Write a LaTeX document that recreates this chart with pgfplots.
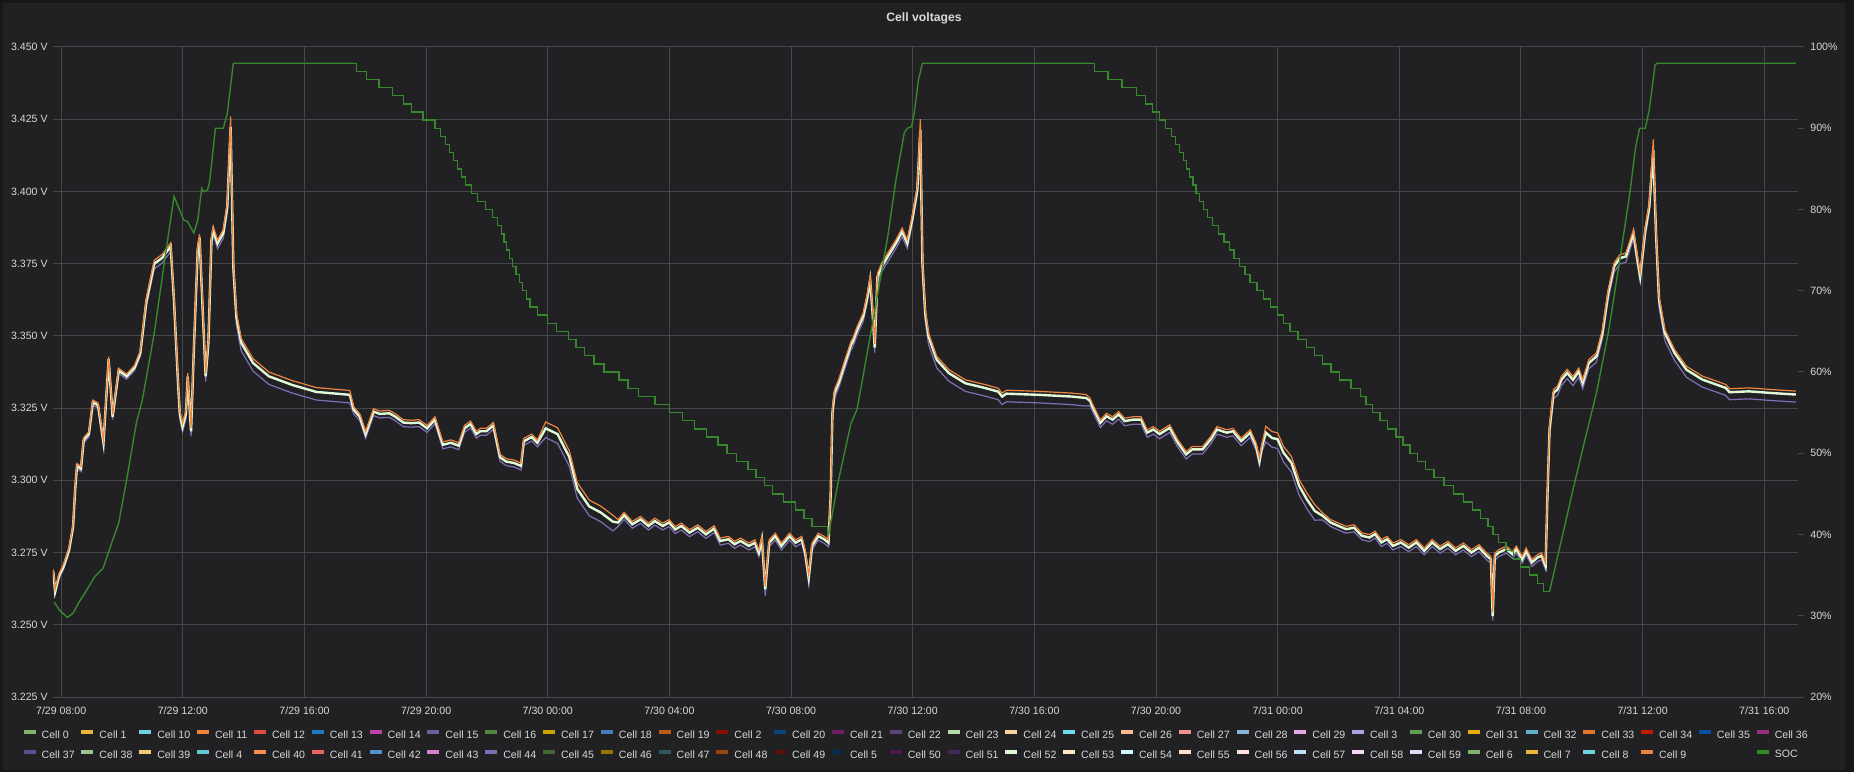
\documentclass[border=0pt]{standalone}
\usepackage{fontspec}
\setmainfont{Liberation Sans}
\usepackage{pgfplots}
\usepackage{pgfplotstable}
\pgfplotsset{compat=1.18}

\definecolor{pagebg}{HTML}{161719}
\definecolor{panelbg}{HTML}{212124}
\definecolor{txt}{HTML}{D8D9DA}
\definecolor{gridc}{HTML}{45474B}
\definecolor{socc}{HTML}{37872D}
% grafana classic palette
\definecolor{g0}{HTML}{7EB26D}\definecolor{g1}{HTML}{EAB839}\definecolor{g2}{HTML}{6ED0E0}\definecolor{g3}{HTML}{EF843C}
\definecolor{g4}{HTML}{E24D42}\definecolor{g5}{HTML}{1F78C1}\definecolor{g6}{HTML}{BA43A9}\definecolor{g7}{HTML}{705DA0}
\definecolor{g8}{HTML}{508642}\definecolor{g9}{HTML}{CCA300}\definecolor{g10}{HTML}{447EBC}\definecolor{g11}{HTML}{C15C17}
\definecolor{g12}{HTML}{890F02}\definecolor{g13}{HTML}{0A437C}\definecolor{g14}{HTML}{6D1F62}\definecolor{g15}{HTML}{584477}
\definecolor{g16}{HTML}{B7DBAB}\definecolor{g17}{HTML}{F4D598}\definecolor{g18}{HTML}{70DBED}\definecolor{g19}{HTML}{F9BA8F}
\definecolor{g20}{HTML}{F29191}\definecolor{g21}{HTML}{82B5D8}\definecolor{g22}{HTML}{E5A8E2}\definecolor{g23}{HTML}{AEA2E0}
\definecolor{g24}{HTML}{629E51}\definecolor{g25}{HTML}{E5AC0E}\definecolor{g26}{HTML}{64B0C8}\definecolor{g27}{HTML}{E0752D}
\definecolor{g28}{HTML}{BF1B00}\definecolor{g29}{HTML}{0A50A1}\definecolor{g30}{HTML}{962D82}\definecolor{g31}{HTML}{614D93}
\definecolor{g32}{HTML}{9AC48A}\definecolor{g33}{HTML}{F2C96D}\definecolor{g34}{HTML}{65C5DB}\definecolor{g35}{HTML}{F9934E}
\definecolor{g36}{HTML}{EA6460}\definecolor{g37}{HTML}{5195CE}\definecolor{g38}{HTML}{D683CE}\definecolor{g39}{HTML}{806EB7}
\definecolor{g40}{HTML}{3F6833}\definecolor{g41}{HTML}{967302}\definecolor{g42}{HTML}{2F575E}\definecolor{g43}{HTML}{99440A}
\definecolor{g44}{HTML}{58140C}\definecolor{g45}{HTML}{052B51}\definecolor{g46}{HTML}{511749}\definecolor{g47}{HTML}{3F2B5B}
\definecolor{g48}{HTML}{E0F9D7}\definecolor{g49}{HTML}{FCEACA}\definecolor{g50}{HTML}{CFFAFF}\definecolor{g51}{HTML}{F9E2D2}
\definecolor{g52}{HTML}{FCE2DE}\definecolor{g53}{HTML}{BADFF4}\definecolor{g54}{HTML}{F9D9F9}\definecolor{g55}{HTML}{DEDAF7}

% hours since 7/29 00:00; md = middle of the cell band, hi/lo = its edges
\pgfplotstableread{
t md hi lo
7.74 3.2684 3.2692 3.2674
7.80 3.2615 3.2623 3.2605
7.93 3.2670 3.2678 3.2660
8.07 3.2700 3.2708 3.2690
8.26 3.2760 3.2768 3.2750
8.39 3.2840 3.2848 3.2830
8.46 3.2970 3.2978 3.2960
8.52 3.3050 3.3058 3.3040
8.65 3.3040 3.3048 3.3030
8.74 3.3140 3.3148 3.3130
8.91 3.3160 3.3168 3.3150
9.04 3.3270 3.3278 3.3260
9.21 3.3260 3.3268 3.3250
9.39 3.3130 3.3138 3.3120
9.56 3.3420 3.3428 3.3410
9.69 3.3220 3.3228 3.3210
9.89 3.3380 3.3388 3.3370
10.15 3.3360 3.3368 3.3350
10.41 3.3390 3.3398 3.3380
10.60 3.3440 3.3448 3.3430
10.80 3.3620 3.3632 3.3602
11.06 3.3750 3.3762 3.3732
11.32 3.3770 3.3782 3.3752
11.60 3.3810 3.3822 3.3792
11.71 3.3620 3.3632 3.3602
11.84 3.3340 3.3352 3.3322
11.90 3.3230 3.3242 3.3212
11.99 3.3186 3.3198 3.3168
12.10 3.3230 3.3242 3.3212
12.16 3.3360 3.3372 3.3342
12.27 3.3170 3.3182 3.3152
12.36 3.3450 3.3462 3.3432
12.49 3.3800 3.3812 3.3782
12.55 3.3840 3.3852 3.3822
12.64 3.3620 3.3632 3.3602
12.75 3.3360 3.3372 3.3342
12.84 3.3476 3.3488 3.3458
12.94 3.3830 3.3842 3.3812
13.00 3.3867 3.3879 3.3849
13.14 3.3820 3.3832 3.3802
13.33 3.3856 3.3868 3.3838
13.46 3.3946 3.3958 3.3928
13.57 3.4223 3.4260 3.4200
13.66 3.3740 3.3755 3.3712
13.76 3.3566 3.3581 3.3538
13.92 3.3476 3.3491 3.3448
14.31 3.3406 3.3421 3.3378
14.83 3.3360 3.3375 3.3332
15.60 3.3330 3.3345 3.3302
16.39 3.3306 3.3321 3.3278
17.49 3.3296 3.3311 3.3268
17.62 3.3244 3.3254 3.3230
17.82 3.3220 3.3230 3.3206
18.01 3.3160 3.3170 3.3146
18.27 3.3238 3.3248 3.3224
18.47 3.3230 3.3240 3.3216
18.79 3.3232 3.3242 3.3218
18.99 3.3220 3.3230 3.3206
19.25 3.3200 3.3210 3.3186
19.51 3.3198 3.3208 3.3184
19.77 3.3200 3.3210 3.3186
20.03 3.3180 3.3190 3.3166
20.29 3.3210 3.3220 3.3196
20.55 3.3123 3.3133 3.3109
20.81 3.3130 3.3140 3.3116
21.07 3.3120 3.3130 3.3106
21.26 3.3180 3.3190 3.3166
21.46 3.3195 3.3205 3.3181
21.65 3.3160 3.3170 3.3146
21.78 3.3170 3.3180 3.3156
21.98 3.3170 3.3180 3.3156
22.21 3.3190 3.3200 3.3176
22.43 3.3080 3.3090 3.3066
22.63 3.3065 3.3075 3.3051
22.89 3.3060 3.3070 3.3046
23.12 3.3050 3.3060 3.3036
23.21 3.3135 3.3145 3.3121
23.47 3.3150 3.3160 3.3136
23.66 3.3130 3.3140 3.3116
23.93 3.3180 3.3202 3.3148
24.32 3.3160 3.3182 3.3128
24.71 3.3080 3.3102 3.3048
24.97 3.2970 3.2992 3.2938
25.36 3.2910 3.2932 3.2878
25.75 3.2888 3.2910 3.2856
26.14 3.2857 3.2879 3.2825
26.31 3.2854 3.2864 3.2840
26.51 3.2879 3.2889 3.2865
26.78 3.2848 3.2858 3.2834
27.05 3.2865 3.2875 3.2851
27.31 3.2842 3.2852 3.2828
27.52 3.2859 3.2869 3.2845
27.78 3.2842 3.2852 3.2828
27.99 3.2854 3.2864 3.2840
28.19 3.2830 3.2840 3.2816
28.39 3.2842 3.2852 3.2828
28.66 3.2819 3.2829 3.2805
28.93 3.2836 3.2846 3.2822
29.20 3.2813 3.2823 3.2799
29.47 3.2833 3.2843 3.2819
29.67 3.2790 3.2800 3.2776
29.94 3.2796 3.2806 3.2782
30.14 3.2779 3.2789 3.2765
30.34 3.2790 3.2800 3.2776
30.61 3.2773 3.2783 3.2759
30.81 3.2784 3.2794 3.2770
30.94 3.2750 3.2760 3.2736
31.04 3.2796 3.2806 3.2782
31.15 3.2623 3.2633 3.2600
31.28 3.2784 3.2794 3.2770
31.48 3.2807 3.2817 3.2793
31.68 3.2773 3.2783 3.2759
31.95 3.2807 3.2817 3.2793
32.15 3.2784 3.2794 3.2770
32.35 3.2796 3.2806 3.2782
32.46 3.2750 3.2760 3.2736
32.58 3.2663 3.2673 3.2640
32.69 3.2773 3.2783 3.2759
32.89 3.2807 3.2817 3.2793
33.09 3.2796 3.2806 3.2782
33.23 3.2784 3.2794 3.2770
33.30 3.2946 3.2958 3.2928
33.36 3.3234 3.3246 3.3216
33.43 3.3303 3.3315 3.3285
33.56 3.3336 3.3348 3.3318
33.77 3.3405 3.3417 3.3387
33.97 3.3469 3.3481 3.3451
34.03 3.3480 3.3492 3.3462
34.17 3.3520 3.3532 3.3502
34.37 3.3567 3.3579 3.3549
34.51 3.3636 3.3648 3.3618
34.60 3.3694 3.3706 3.3676
34.68 3.3580 3.3592 3.3562
34.75 3.3460 3.3472 3.3442
34.84 3.3705 3.3717 3.3687
34.98 3.3740 3.3752 3.3722
35.18 3.3775 3.3787 3.3757
35.45 3.3821 3.3833 3.3803
35.65 3.3861 3.3873 3.3843
35.82 3.3821 3.3833 3.3803
35.98 3.3902 3.3914 3.3884
36.15 3.4006 3.4018 3.3988
36.25 3.4214 3.4250 3.4190
36.32 3.3750 3.3762 3.3722
36.41 3.3579 3.3591 3.3551
36.52 3.3498 3.3510 3.3470
36.79 3.3417 3.3429 3.3389
37.19 3.3371 3.3383 3.3343
37.73 3.3336 3.3348 3.3308
38.40 3.3319 3.3331 3.3291
38.81 3.3307 3.3319 3.3279
38.94 3.3290 3.3302 3.3262
39.08 3.3300 3.3312 3.3272
40.15 3.3296 3.3308 3.3268
41.23 3.3290 3.3302 3.3262
41.70 3.3285 3.3297 3.3257
41.83 3.3275 3.3285 3.3259
41.90 3.3257 3.3267 3.3241
42.17 3.3199 3.3209 3.3183
42.37 3.3222 3.3232 3.3206
42.57 3.3210 3.3220 3.3194
42.77 3.3228 3.3238 3.3212
42.97 3.3205 3.3215 3.3189
43.24 3.3210 3.3220 3.3194
43.51 3.3210 3.3220 3.3194
43.71 3.3165 3.3175 3.3149
43.91 3.3176 3.3186 3.3160
44.12 3.3160 3.3170 3.3144
44.45 3.3182 3.3192 3.3166
44.72 3.3130 3.3140 3.3114
44.99 3.3090 3.3100 3.3074
45.19 3.3107 3.3117 3.3091
45.53 3.3107 3.3117 3.3091
45.80 3.3142 3.3152 3.3126
46.00 3.3176 3.3186 3.3160
46.33 3.3165 3.3175 3.3149
46.53 3.3170 3.3180 3.3154
46.80 3.3136 3.3146 3.3120
47.10 3.3165 3.3175 3.3149
47.29 3.3119 3.3129 3.3103
47.40 3.3067 3.3077 3.3051
47.49 3.3119 3.3129 3.3103
47.61 3.3165 3.3187 3.3133
47.81 3.3147 3.3169 3.3115
48.00 3.3142 3.3164 3.3110
48.19 3.3096 3.3118 3.3064
48.45 3.3061 3.3083 3.3029
48.71 3.2980 3.3002 3.2948
48.96 3.2934 3.2956 3.2902
49.22 3.2894 3.2916 3.2862
49.48 3.2877 3.2887 3.2863
49.74 3.2854 3.2864 3.2840
50.00 3.2842 3.2852 3.2828
50.25 3.2831 3.2841 3.2817
50.51 3.2836 3.2846 3.2822
50.77 3.2808 3.2818 3.2794
51.02 3.2802 3.2812 3.2788
51.20 3.2814 3.2824 3.2800
51.41 3.2785 3.2795 3.2771
51.60 3.2796 3.2806 3.2782
51.79 3.2773 3.2783 3.2759
52.05 3.2785 3.2795 3.2771
52.31 3.2767 3.2777 3.2753
52.56 3.2785 3.2795 3.2771
52.82 3.2756 3.2766 3.2742
53.08 3.2785 3.2795 3.2771
53.34 3.2762 3.2772 3.2748
53.60 3.2779 3.2789 3.2765
53.85 3.2756 3.2766 3.2742
54.11 3.2773 3.2783 3.2759
54.37 3.2750 3.2760 3.2736
54.62 3.2767 3.2777 3.2753
54.88 3.2738 3.2748 3.2724
55.01 3.2727 3.2737 3.2713
55.07 3.2530 3.2545 3.2515
55.14 3.2738 3.2748 3.2724
55.27 3.2750 3.2760 3.2736
55.52 3.2762 3.2772 3.2748
55.72 3.2744 3.2754 3.2730
55.85 3.2762 3.2772 3.2748
56.04 3.2727 3.2737 3.2713
56.17 3.2756 3.2766 3.2742
56.36 3.2716 3.2726 3.2702
56.55 3.2733 3.2743 3.2719
56.68 3.2739 3.2749 3.2725
56.81 3.2704 3.2714 3.2690
56.87 3.2946 3.2958 3.2926
56.94 3.3176 3.3188 3.3156
57.07 3.3303 3.3315 3.3283
57.20 3.3314 3.3326 3.3294
57.33 3.3348 3.3360 3.3328
57.52 3.3372 3.3384 3.3352
57.71 3.3348 3.3360 3.3328
57.90 3.3377 3.3389 3.3357
58.03 3.3337 3.3349 3.3317
58.23 3.3406 3.3418 3.3386
58.48 3.3429 3.3441 3.3409
58.68 3.3510 3.3522 3.3490
58.87 3.3648 3.3660 3.3628
59.06 3.3740 3.3752 3.3720
59.25 3.3769 3.3781 3.3749
59.45 3.3775 3.3787 3.3755
59.70 3.3856 3.3868 3.3836
59.83 3.3764 3.3776 3.3744
59.92 3.3706 3.3718 3.3686
60.09 3.3867 3.3879 3.3847
60.22 3.3948 3.3960 3.3928
60.35 3.4144 3.4180 3.4124
60.44 3.3856 3.3868 3.3830
60.54 3.3625 3.3637 3.3599
60.73 3.3510 3.3522 3.3484
61.05 3.3441 3.3453 3.3415
61.44 3.3383 3.3395 3.3357
61.96 3.3349 3.3361 3.3323
62.73 3.3320 3.3332 3.3294
62.86 3.3305 3.3317 3.3279
63.50 3.3308 3.3320 3.3282
64.27 3.3302 3.3314 3.3276
65.04 3.3297 3.3309 3.3271
}\cells

\pgfplotsset{
  lbl/.style={font=\fontsize{5.3}{6.2}\selectfont, text=txt},
}

\begin{document}
\begin{tikzpicture}
% page and panel
\fill[pagebg] (-26.5pt,-37.5pt) rectangle (900.5pt,348.5pt);
\fill[panelbg] (-25pt,-36.5pt) rectangle (896pt,347pt);
\node[anchor=base, text=txt, font=\bfseries\fontsize{6.1}{7}\selectfont] at (435.5pt,337.75pt) {Cell voltages};

\begin{axis}[
  at={(0,0)}, anchor=south west,
  scale only axis, width=872.5pt, height=325pt,
  xmin=7.73, xmax=65.11, ymin=3.225, ymax=3.45,
  axis line style={draw=none},
  major tick length=0pt,
  xtick={8,12,...,64},
  xticklabels={7/29 08:00,7/29 12:00,7/29 16:00,7/29 20:00,7/30 00:00,7/30 04:00,7/30 08:00,7/30 12:00,7/30 16:00,7/30 20:00,7/31 00:00,7/31 04:00,7/31 08:00,7/31 12:00,7/31 16:00},
  ytick={3.225,3.25,3.275,3.3,3.325,3.35,3.375,3.4,3.425,3.45},
  yticklabels={3.225 V,3.250 V,3.275 V,3.300 V,3.325 V,3.350 V,3.375 V,3.400 V,3.425 V,3.450 V},
  grid=major, grid style={gridc, line width=0.5pt},
  tick label style={lbl},
  xticklabel style={anchor=north, inner sep=0pt, yshift=-4.8pt},
  yticklabel style={anchor=east, inner sep=0pt, xshift=-2.5pt},
  legend columns=31,
  legend cell align=left,
  legend image code/.code={\draw[line width=2pt] (0pt,1.9pt) -- (6pt,1.9pt);},
  legend style={at={(-0.01794,-0.0508)}, anchor=north west, draw=none, fill=none,
    inner sep=0pt, outer sep=0pt, lbl, nodes={inner sep=0pt},
    row sep=4.4pt,
    /tikz/every odd column/.append style={column sep=2pt},
    /tikz/every even column/.append style={column sep=2.4pt}},
]
\addplot[g39, line width=0.6pt, forget plot] table[x=t, y=lo] {\cells};
\addplot[g48, line width=1.2pt, forget plot] table[x=t, y=md] {\cells};
\addplot[g3, line width=0.6pt, forget plot] table[x=t, y=hi] {\cells};

\addlegendimage{g0}\addlegendentry{Cell 0}
\addlegendimage{g1}\addlegendentry{Cell 1}
\addlegendimage{g2}\addlegendentry{Cell 10}
\addlegendimage{g3}\addlegendentry{Cell 11}
\addlegendimage{g4}\addlegendentry{Cell 12}
\addlegendimage{g5}\addlegendentry{Cell 13}
\addlegendimage{g6}\addlegendentry{Cell 14}
\addlegendimage{g7}\addlegendentry{Cell 15}
\addlegendimage{g8}\addlegendentry{Cell 16}
\addlegendimage{g9}\addlegendentry{Cell 17}
\addlegendimage{g10}\addlegendentry{Cell 18}
\addlegendimage{g11}\addlegendentry{Cell 19}
\addlegendimage{g12}\addlegendentry{Cell 2}
\addlegendimage{g13}\addlegendentry{Cell 20}
\addlegendimage{g14}\addlegendentry{Cell 21}
\addlegendimage{g15}\addlegendentry{Cell 22}
\addlegendimage{g16}\addlegendentry{Cell 23}
\addlegendimage{g17}\addlegendentry{Cell 24}
\addlegendimage{g18}\addlegendentry{Cell 25}
\addlegendimage{g19}\addlegendentry{Cell 26}
\addlegendimage{g20}\addlegendentry{Cell 27}
\addlegendimage{g21}\addlegendentry{Cell 28}
\addlegendimage{g22}\addlegendentry{Cell 29}
\addlegendimage{g23}\addlegendentry{Cell 3}
\addlegendimage{g24}\addlegendentry{Cell 30}
\addlegendimage{g25}\addlegendentry{Cell 31}
\addlegendimage{g26}\addlegendentry{Cell 32}
\addlegendimage{g27}\addlegendentry{Cell 33}
\addlegendimage{g28}\addlegendentry{Cell 34}
\addlegendimage{g29}\addlegendentry{Cell 35}
\addlegendimage{g30}\addlegendentry{Cell 36}
\addlegendimage{g31}\addlegendentry{Cell 37}
\addlegendimage{g32}\addlegendentry{Cell 38}
\addlegendimage{g33}\addlegendentry{Cell 39}
\addlegendimage{g34}\addlegendentry{Cell 4}
\addlegendimage{g35}\addlegendentry{Cell 40}
\addlegendimage{g36}\addlegendentry{Cell 41}
\addlegendimage{g37}\addlegendentry{Cell 42}
\addlegendimage{g38}\addlegendentry{Cell 43}
\addlegendimage{g39}\addlegendentry{Cell 44}
\addlegendimage{g40}\addlegendentry{Cell 45}
\addlegendimage{g41}\addlegendentry{Cell 46}
\addlegendimage{g42}\addlegendentry{Cell 47}
\addlegendimage{g43}\addlegendentry{Cell 48}
\addlegendimage{g44}\addlegendentry{Cell 49}
\addlegendimage{g45}\addlegendentry{Cell 5}
\addlegendimage{g46}\addlegendentry{Cell 50}
\addlegendimage{g47}\addlegendentry{Cell 51}
\addlegendimage{g48}\addlegendentry{Cell 52}
\addlegendimage{g49}\addlegendentry{Cell 53}
\addlegendimage{g50}\addlegendentry{Cell 54}
\addlegendimage{g51}\addlegendentry{Cell 55}
\addlegendimage{g52}\addlegendentry{Cell 56}
\addlegendimage{g53}\addlegendentry{Cell 57}
\addlegendimage{g54}\addlegendentry{Cell 58}
\addlegendimage{g55}\addlegendentry{Cell 59}
\addlegendimage{g0}\addlegendentry{Cell 6}
\addlegendimage{g1}\addlegendentry{Cell 7}
\addlegendimage{g2}\addlegendentry{Cell 8}
\addlegendimage{g3}\addlegendentry{Cell 9}
\addlegendimage{empty legend}\addlegendentry{}
\addlegendimage{socc}\addlegendentry{SOC}
\end{axis}

\begin{axis}[
  at={(0,0)}, anchor=south west,
  scale only axis, width=872.5pt, height=325pt,
  xmin=7.73, xmax=65.11, ymin=20, ymax=100,
  axis x line=none, axis y line*=right,
  y axis line style={draw=none},
  ytick={20,30,...,100},
  yticklabels={20\%,30\%,40\%,50\%,60\%,70\%,80\%,90\%,100\%},
  major tick length=3pt, tick align=outside,
  ytick style={gridc, line width=0.5pt},
  yticklabel style={lbl, anchor=west, inner sep=0pt, xshift=3pt},
]
% SOC: rising parts as lines, falling parts as 1 % steps
\addplot[socc, line width=0.7pt] coordinates {(7.77,31.7)(7.94,30.7)(8.20,29.8)(8.39,30.3)(8.59,31.7)(8.78,32.8)(9.10,34.8)(9.37,35.8)(9.69,39.3)(9.89,41.4)(10.15,46.7)(10.47,53.7)(10.67,56.6)(11.06,64.8)(11.45,75.0)(11.71,81.6)(12.03,78.7)(12.16,78.5)(12.36,77.1)(12.49,78.7)(12.62,82.6)(12.68,82.2)(12.81,82.4)(12.88,83.4)(13.07,90.0)(13.33,90.0)(13.46,91.8)(13.66,98.0)(17.65,98.0)};
\addplot[socc, line width=0.7pt, const plot] coordinates {(17.65,98)(17.70,97)(18.04,96)(18.45,95)(18.90,94)(19.25,93)(19.51,92)(19.90,91)(20.29,90)(20.48,89)(20.63,88)(20.77,87)(20.90,86)(21.03,85)(21.17,84)(21.30,83)(21.49,82)(21.68,81)(21.96,80)(22.19,79)(22.35,78)(22.47,77)(22.56,76)(22.65,75)(22.74,74)(22.84,73)(22.95,72)(23.06,71)(23.16,70)(23.29,69)(23.41,68)(23.67,67)(23.99,66)(24.29,65)(24.68,64)(24.93,63)(25.20,62)(25.52,61)(25.85,60)(26.34,59)(26.64,58)(26.98,57)(27.52,56)(28.00,55)(28.42,54)(28.82,53)(29.22,52)(29.60,51)(29.89,50)(30.20,49)(30.58,48)(30.85,47)(31.12,46)(31.38,45)(31.75,44)(32.14,43)(32.43,42)(32.69,41)(33.20,40)(33.23,40)};
\addplot[socc, line width=0.7pt] coordinates {(33.23,40)(33.56,46.7)(33.97,53.7)(34.17,55.4)(34.64,65.2)(35.18,76.7)(35.45,83.7)(35.72,89.4)(35.82,90.0)(35.96,90.2)(36.05,91.9)(36.19,96.0)(36.32,98.0)(41.87,98.0)};
\addplot[socc, line width=0.7pt, const plot] coordinates {(41.87,98)(41.97,97)(42.42,96)(42.88,95)(43.36,94)(43.66,93)(43.89,92)(44.11,91)(44.32,90)(44.51,89)(44.64,88)(44.78,87)(44.90,86)(45.00,85)(45.10,84)(45.21,83)(45.31,82)(45.42,81)(45.56,80)(45.70,79)(45.86,78)(46.05,77)(46.24,76)(46.41,75)(46.57,74)(46.74,73)(46.92,72)(47.09,71)(47.32,70)(47.54,69)(47.77,68)(48.00,67)(48.20,66)(48.41,65)(48.67,64)(48.94,63)(49.21,62)(49.48,61)(49.75,60)(50.03,59)(50.41,58)(50.72,57)(50.91,56)(51.12,55)(51.37,54)(51.62,53)(51.89,52)(52.12,51)(52.35,50)(52.60,49)(52.87,48)(53.14,47)(53.47,46)(53.79,45)(54.11,44)(54.41,43)(54.67,42)(54.91,41)(55.08,40)(55.26,39)(55.51,38)(55.76,37)(55.99,36)(56.29,35)(56.54,34)(56.75,33)(56.94,33)};
\addplot[socc, line width=0.7pt] coordinates {(56.94,33)(57.33,39.3)(57.71,45.5)(58.10,51.6)(58.48,57.4)(58.87,64.8)(59.25,73.8)(59.58,82.0)(59.77,87.7)(59.90,90.0)(60.09,90.0)(60.22,92.3)(60.41,97.8)(60.48,98.0)(65.04,98.0)};
\end{axis}

\pgfresetboundingbox
\useasboundingbox (-26.5pt,-37.5pt) rectangle (900.5pt,348.5pt);
\end{tikzpicture}
\end{document}
